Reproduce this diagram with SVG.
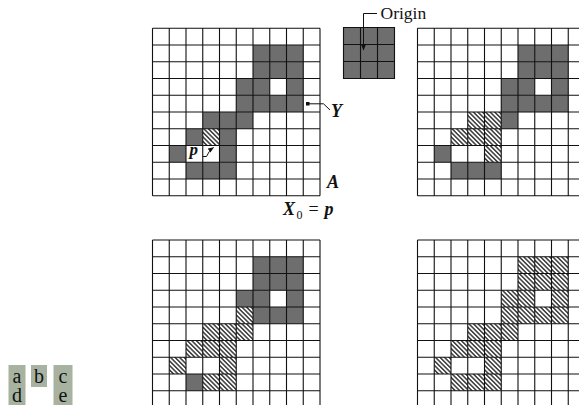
<svg xmlns="http://www.w3.org/2000/svg" xmlns:xlink="http://www.w3.org/1999/xlink" width="579" height="405" viewBox="0 0 579 405">
<style>
.gray{fill:#6e6e6e}
.hat{fill:url(#hatch)}
.gl{fill:none;stroke:#111;stroke-width:1.1}
.lab{font-family:"Liberation Serif",serif;font-style:italic;font-weight:bold;font-size:17px;fill:#111}
.up{font-family:"Liberation Serif",serif;font-size:16px;fill:#111}
.leg{fill:#a7b3a0}
.lt{font-family:"Liberation Serif",serif;font-size:20px;fill:#111}
.con{fill:none;stroke:#111;stroke-width:1}
</style>
<defs>
<pattern id="hatch" width="3.2" height="3.2" patternUnits="userSpaceOnUse" patternTransform="rotate(-45)">
<rect width="3.2" height="3.2" fill="#fff"/>
<line x1="0.8" y1="0" x2="0.8" y2="3.2" stroke="#1a1a1a" stroke-width="1.3"/>
</pattern>
<g id="grid">
<path class="gl" d="M0,0V167.5M16.75,0V167.5M33.5,0V167.5M50.25,0V167.5M67,0V167.5M83.75,0V167.5M100.5,0V167.5M117.25,0V167.5M134,0V167.5M150.75,0V167.5M167.5,0V167.5M0,0H167.5M0,16.75H167.5M0,33.5H167.5M0,50.25H167.5M0,67H167.5M0,83.75H167.5M0,100.5H167.5M0,117.25H167.5M0,134H167.5M0,150.75H167.5M0,167.5H167.5"/>
</g>
<rect id="G" width="16.75" height="16.75" class="gray"/>
<rect id="H" width="16.75" height="16.75" class="hat"/>
<marker id="ah" viewBox="0 0 10 10" refX="9" refY="5" markerWidth="6" markerHeight="6" orient="auto">
<path d="M0,1L10,5L0,9z" fill="#111"/>
</marker>
</defs>
<rect width="579" height="405" fill="#fff"/>

<g id="gridA" transform="translate(152.5,28.3)">
<use href="#G" x="100.5" y="16.75"/><use href="#G" x="117.25" y="16.75"/><use href="#G" x="134" y="16.75"/>
<use href="#G" x="100.5" y="33.5"/><use href="#G" x="117.25" y="33.5"/><use href="#G" x="134" y="33.5"/>
<use href="#G" x="83.75" y="50.25"/><use href="#G" x="100.5" y="50.25"/><use href="#G" x="134" y="50.25"/>
<use href="#G" x="83.75" y="67"/><use href="#G" x="100.5" y="67"/><use href="#G" x="117.25" y="67"/><use href="#G" x="134" y="67"/>
<use href="#G" x="50.25" y="83.75"/><use href="#G" x="67" y="83.75"/><use href="#G" x="83.75" y="83.75"/>
<use href="#G" x="33.5" y="100.5"/><use href="#H" x="50.25" y="100.5"/><use href="#G" x="67" y="100.5"/>
<use href="#G" x="16.75" y="117.25"/><use href="#G" x="67" y="117.25"/>
<use href="#G" x="33.5" y="134"/><use href="#G" x="50.25" y="134"/><use href="#G" x="67" y="134"/>
<use href="#grid"/>
</g>

<g id="gridB" transform="translate(417.5,28.3)">
<use href="#G" x="100.5" y="16.75"/><use href="#G" x="117.25" y="16.75"/><use href="#G" x="134" y="16.75"/>
<use href="#G" x="100.5" y="33.5"/><use href="#G" x="117.25" y="33.5"/><use href="#G" x="134" y="33.5"/>
<use href="#G" x="83.75" y="50.25"/><use href="#G" x="100.5" y="50.25"/><use href="#G" x="134" y="50.25"/>
<use href="#G" x="83.75" y="67"/><use href="#G" x="100.5" y="67"/><use href="#G" x="117.25" y="67"/><use href="#G" x="134" y="67"/>
<use href="#H" x="50.25" y="83.75"/><use href="#H" x="67" y="83.75"/><use href="#G" x="83.75" y="83.75"/>
<use href="#H" x="33.5" y="100.5"/><use href="#H" x="50.25" y="100.5"/><use href="#H" x="67" y="100.5"/>
<use href="#G" x="16.75" y="117.25"/><use href="#H" x="67" y="117.25"/>
<use href="#G" x="33.5" y="134"/><use href="#G" x="50.25" y="134"/><use href="#G" x="67" y="134"/>
<use href="#grid"/>
</g>

<g id="gridC" transform="translate(152.5,240)">
<use href="#G" x="100.5" y="16.75"/><use href="#G" x="117.25" y="16.75"/><use href="#G" x="134" y="16.75"/>
<use href="#G" x="100.5" y="33.5"/><use href="#G" x="117.25" y="33.5"/><use href="#G" x="134" y="33.5"/>
<use href="#G" x="83.75" y="50.25"/><use href="#G" x="100.5" y="50.25"/><use href="#G" x="134" y="50.25"/>
<use href="#H" x="83.75" y="67"/><use href="#G" x="100.5" y="67"/><use href="#G" x="117.25" y="67"/><use href="#G" x="134" y="67"/>
<use href="#H" x="50.25" y="83.75"/><use href="#H" x="67" y="83.75"/><use href="#H" x="83.75" y="83.75"/>
<use href="#H" x="33.5" y="100.5"/><use href="#H" x="50.25" y="100.5"/><use href="#H" x="67" y="100.5"/>
<use href="#H" x="16.75" y="117.25"/><use href="#H" x="67" y="117.25"/>
<use href="#G" x="33.5" y="134"/><use href="#H" x="50.25" y="134"/><use href="#H" x="67" y="134"/>
<use href="#grid"/>
</g>

<g id="gridD" transform="translate(417.5,240)">
<use href="#H" x="100.5" y="16.75"/><use href="#H" x="117.25" y="16.75"/><use href="#H" x="134" y="16.75"/>
<use href="#H" x="100.5" y="33.5"/><use href="#H" x="117.25" y="33.5"/><use href="#H" x="134" y="33.5"/>
<use href="#H" x="83.75" y="50.25"/><use href="#H" x="100.5" y="50.25"/><use href="#H" x="134" y="50.25"/>
<use href="#H" x="83.75" y="67"/><use href="#H" x="100.5" y="67"/><use href="#H" x="117.25" y="67"/><use href="#H" x="134" y="67"/>
<use href="#H" x="50.25" y="83.75"/><use href="#H" x="67" y="83.75"/><use href="#H" x="83.75" y="83.75"/>
<use href="#H" x="33.5" y="100.5"/><use href="#H" x="50.25" y="100.5"/><use href="#H" x="67" y="100.5"/>
<use href="#H" x="16.75" y="117.25"/><use href="#H" x="67" y="117.25"/>
<use href="#H" x="33.5" y="134"/><use href="#H" x="50.25" y="134"/><use href="#H" x="67" y="134"/>
<use href="#grid"/>
</g>

<g id="structElement" transform="translate(343.5,27.5)">
<rect width="51" height="51" class="gray"/>
<path class="gl" d="M0,0H51V51H0zM17,0V51M34,0V51M0,17H51M0,34H51"/>
</g>

<g id="connectors">
<path class="con" d="M377,13.5H363.5V50" marker-end="url(#ah)"/>
<rect x="306" y="102" width="3.5" height="3.5" fill="#111"/>
<path class="con" d="M307,103.8H323.5L330,110"/>
<path class="con" d="M202.5,156.5H206.5Q208.5,151 213.5,147.5" marker-end="url(#ah)"/>
</g>

<g id="labels">
<text x="380.5" y="18.5" class="up" style="font-size:17.5px">Origin</text>
<text x="331" y="117" class="lab" style="font-size:18px">Y</text>
<text x="327" y="188" class="lab" style="font-size:18px">A</text>
<text x="189.5" y="155" class="lab">p</text>
<text x="283" y="215" class="lab" style="font-size:18px">X</text>
<text x="296.5" y="219" class="up" style="font-size:12px">0</text>
<text x="308.5" y="215" class="up" style="font-size:18px">=</text>
<text x="324.5" y="215" class="lab" style="font-size:18px">p</text>
</g>

<g id="legend">
<rect x="8.5" y="365" width="17" height="40" class="leg"/>
<rect x="31" y="365" width="16" height="22" class="leg"/>
<rect x="53.5" y="365" width="19" height="40" class="leg"/>
<text x="17" y="382.5" class="lt" text-anchor="middle">a</text>
<text x="39" y="382.5" class="lt" text-anchor="middle">b</text>
<text x="63" y="382.5" class="lt" text-anchor="middle">c</text>
<text x="17" y="402" class="lt" text-anchor="middle">d</text>
<text x="63" y="402" class="lt" text-anchor="middle">e</text>
</g>
</svg>
